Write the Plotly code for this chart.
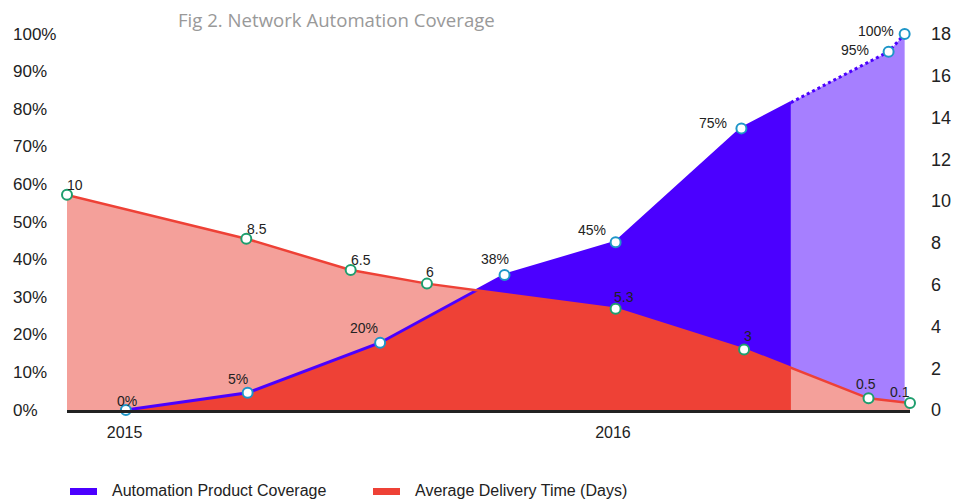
import numpy as np
import pandas as pd
import plotly.graph_objects as go

# ---------------- data ----------------
coverage_dates = ["2015-01-02", "2015-04-03", "2015-07-11", "2015-10-12",
                  "2016-01-03", "2016-04-06", "2016-07-25", "2016-08-06"]
coverage_pct = [0, 4.6, 17.9, 35.9, 44.6, 74.9, 95.3, 100]
coverage_labels = ["0%", "5%", "20%", "38%", "45%", "75%", "95%", "100%"]

delivery_dates = ["2014-11-19", "2015-04-02", "2015-06-19", "2015-08-15",
                  "2016-01-03", "2016-04-08", "2016-07-10", "2016-08-10"]
delivery_days = [10.3, 8.2, 6.7, 6.05, 4.85, 2.9, 0.56, 0.34]
delivery_labels = ["10", "8.5", "6.5", "6", "5.3", "3", "0.5", "0.1"]

forecast_start = "2016-05-13"

left_ticks = [0, 10, 20, 30, 40, 50, 60, 70, 80, 90, 100]
left_tick_labels = [f"{v}%" for v in left_ticks]
right_ticks = [0, 2, 4, 6, 8, 10, 12, 14, 16, 18]
year_ticks = ["2015-01-01", "2016-01-01"]
year_labels = ["2015", "2016"]

series_names = ["Automation Product Coverage", "Average Delivery Time (Days)"]
title_text = "Fig 2. Network Automation Coverage"

# ---------------- styles ----------------
BLUE = "#4B00FF"
PURPLE = "#A67FFF"
RED = "#EE4136"
LIGHT_RED = "#F4A09A"
BLUE_MARK = "#1E96C8"
RED_MARK = "#1E9E6E"
TXT = "#222222"
FONT = "Liberation Sans, Arial, sans-serif"

# label offsets in px (dx right, dy down)
coverage_shift = [(1, -9), (-10, -14), (-16, -15), (-10, -16), (-24, -12), (-28, -5), (-34, -2), (-29, -3)]
delivery_shift = [(8, -10), (11, -10), (10, -10), (3, -12), (8, -12), (4, -13), (-3, -14), (-10, -11)]

W, H = 953, 500
PL, PR, PT, PB = 67, 910, 34, 410          # plot box in page pixels
L, R, T, B = PL, W - PR, PT, H - PB
pw = W - L - R
ph = H - T - B


def px_x(page_x):
    return (page_x - PL) / pw


def px_y(page_y):
    return 1 - (page_y - PT) / ph


# ---------------- derived geometry ----------------
Y_MAX_LEFT = 100.0
Y_MAX_RIGHT = 18.0
scale = Y_MAX_LEFT / Y_MAX_RIGHT


def ns(dates):
    return pd.to_datetime(dates).values.astype("datetime64[ns]").astype("int64").astype(float)


def to_dt(arr):
    return pd.to_datetime(np.round(np.asarray(arr)).astype("int64"))


cx = ns(coverage_dates)
cy = np.array(coverage_pct, dtype=float)
dx = ns(delivery_dates)
dy = np.array(delivery_days, dtype=float) * scale
cut = ns([forecast_start])[0]

cut_cov = np.interp(cut, cx, cy)
solid_x = np.concatenate([cx[cx <= cut], [cut]])
solid_y = np.concatenate([cy[cx <= cut], [cut_cov]])
fc_x = np.concatenate([[cut], cx[cx > cut]])
fc_y = np.concatenate([[cut_cov], cy[cx > cut]])

grid = np.unique(np.concatenate([cx, dx, [cut]]))
grid = grid[(grid >= cx[0]) & (grid <= cut)]
g_c = np.interp(grid, cx, cy)
g_d = np.interp(grid, dx, dy)
xs = [grid[0]]
for i in range(len(grid) - 1):
    d0 = g_c[i] - g_d[i]
    d1 = g_c[i + 1] - g_d[i + 1]
    if d0 * d1 < 0:
        t = d0 / (d0 - d1)
        xs.append(grid[i] + t * (grid[i + 1] - grid[i]))
    xs.append(grid[i + 1])
xs = np.array(xs)
ov_y = np.minimum(np.interp(xs, cx, cy), np.interp(xs, dx, dy))

fig = go.Figure()

fig.add_trace(go.Scatter(x=to_dt(solid_x), y=solid_y, mode="lines", fill="tozeroy",
                         fillcolor=BLUE, line=dict(width=0, color=BLUE), hoverinfo="skip"))
fig.add_trace(go.Scatter(x=to_dt(fc_x), y=fc_y, mode="lines", fill="tozeroy",
                         fillcolor=PURPLE, line=dict(width=0, color=PURPLE), hoverinfo="skip"))
fig.add_trace(go.Scatter(x=to_dt(dx), y=dy, mode="lines", fill="tozeroy",
                         fillcolor=LIGHT_RED, line=dict(width=0, color=LIGHT_RED), hoverinfo="skip"))
fig.add_trace(go.Scatter(x=to_dt(xs), y=ov_y, mode="lines", fill="tozeroy",
                         fillcolor=RED, line=dict(width=0, color=RED), hoverinfo="skip"))

fig.add_trace(go.Scatter(x=to_dt(solid_x), y=solid_y, mode="lines",
                         line=dict(width=3, color=BLUE), hoverinfo="skip"))
fig.add_trace(go.Scatter(x=to_dt(fc_x), y=fc_y, mode="lines",
                         line=dict(width=3, color=BLUE, dash="dot"), hoverinfo="skip"))

fig.add_trace(go.Scatter(x=delivery_dates, y=delivery_days, yaxis="y2", mode="lines+markers",
                         line=dict(width=2.5, color=RED),
                         marker=dict(size=10, color="white", line=dict(width=2, color=RED_MARK)),
                         cliponaxis=False, name=series_names[1]))
fig.add_trace(go.Scatter(x=coverage_dates, y=coverage_pct, mode="markers",
                         marker=dict(size=10, color="white", line=dict(width=2, color=BLUE_MARK)),
                         cliponaxis=False, name=series_names[0]))

annotations = []
for d, v, t, (sx, sy) in zip(coverage_dates, coverage_pct, coverage_labels, coverage_shift):
    annotations.append(dict(x=d, y=v, xref="x", yref="y", text=t, showarrow=False,
                            xshift=sx, yshift=-sy, font=dict(family=FONT, size=14, color=TXT)))
for d, v, t, (sx, sy) in zip(delivery_dates, delivery_days, delivery_labels, delivery_shift):
    annotations.append(dict(x=d, y=v, xref="x", yref="y2", text=t, showarrow=False,
                            xshift=sx, yshift=-sy, font=dict(family=FONT, size=14, color=TXT)))

for v, t in zip(left_ticks, left_tick_labels):
    annotations.append(dict(x=px_x(11), y=v, xref="paper", yref="y", text=t, showarrow=False,
                            xanchor="left", yanchor="middle",
                            font=dict(family=FONT, size=17, color=TXT)))

shapes = []
for (x0, x1, tx), col, name in zip([(70, 97, 110), (373, 400, 413)], [BLUE, RED], series_names):
    shapes.append(dict(type="rect", xref="paper", yref="paper",
                       x0=px_x(x0), x1=px_x(x1), y0=px_y(495), y1=px_y(488),
                       fillcolor=col, line=dict(width=0)))
    annotations.append(dict(x=px_x(tx), y=px_y(490), xref="paper", yref="paper", text=name,
                            showarrow=False, xanchor="left", yanchor="middle",
                            font=dict(family=FONT, size=16, color=TXT)))

fig.update_layout(
    width=W, height=H,
    margin=dict(l=L, r=R, t=T, b=B, autoexpand=False),
    paper_bgcolor="white", plot_bgcolor="white",
    showlegend=False,
    title=dict(text=title_text, xref="container", yref="container", x=178 / W, xanchor="left",
               y=1 - 20 / H, yanchor="middle",
               font=dict(family="Open Sans, sans-serif", size=18.6, color="#999999")),
    xaxis=dict(type="date", range=[delivery_dates[0], delivery_dates[-1]], automargin=False,
               tickvals=year_ticks, ticktext=year_labels, showgrid=False, zeroline=False,
               showline=True, linecolor=TXT, linewidth=3, ticks="",
               tickfont=dict(family=FONT, size=16, color=TXT), ticklabelstandoff=6),
    yaxis=dict(range=[0, Y_MAX_LEFT], showticklabels=False, showgrid=False, zeroline=False,
               ticks="", automargin=False),
    yaxis2=dict(range=[0, Y_MAX_RIGHT], overlaying="y", side="right", tickvals=right_ticks,
                showgrid=False, zeroline=False, ticks="", automargin=False,
                tickfont=dict(family=FONT, size=18, color=TXT), ticklabelstandoff=20),
    annotations=annotations,
    shapes=shapes,
)

fig.write_html("out.html", config={"displayModeBar": False},
               post_script="document.body.style.margin='0px';document.body.style.overflow='hidden';")
